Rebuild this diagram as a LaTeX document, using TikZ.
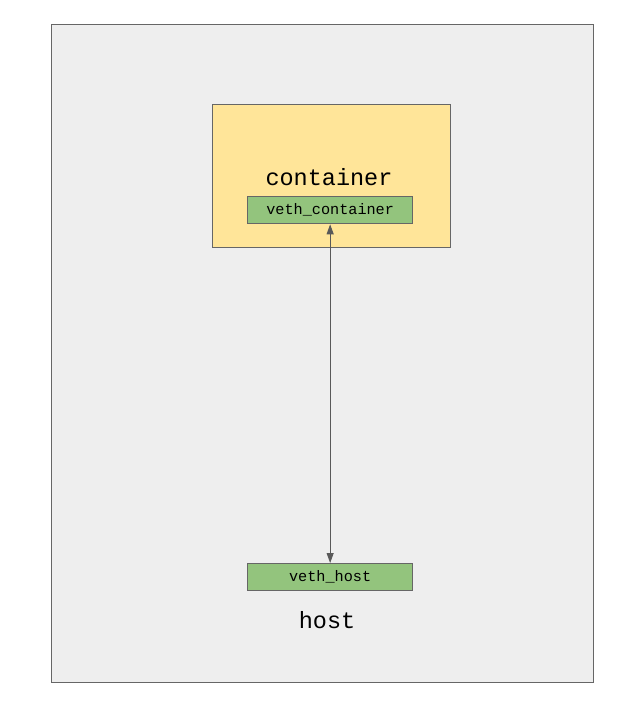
\documentclass[tikz,border=0pt]{standalone}
\usepackage{fontspec}
\setmonofont{Liberation Mono}
\usetikzlibrary{arrows.meta}
\definecolor{hostfill}{HTML}{EEEEEE}
\definecolor{edge}{HTML}{666666}
\definecolor{contfill}{HTML}{FFE599}
\definecolor{vethfill}{HTML}{93C47D}
\definecolor{arrowc}{HTML}{595959}
\tikzset{
  box/.style={draw=edge, line width=1.3pt, inner sep=0pt, anchor=north west},
  vethbox/.style={box, fill=vethfill, minimum width=165pt, minimum height=27pt, font=\ttfamily\fontsize{15.2}{17}\selectfont},
  biglabel/.style={font=\ttfamily\fontsize{23.5}{26}\selectfont, inner sep=0pt},
  link/.style={draw=arrowc, line width=1pt, {Triangle[length=10pt,width=7pt]}-{Triangle[length=10pt,width=7pt]}}
}
\begin{document}
\begin{tikzpicture}[x=1pt,y=-1pt]
\useasboundingbox (0,0) rectangle (640,711);
\fill[white] (0,0) rectangle (640,711);
\node[box, fill=hostfill, minimum width=542pt, minimum height=658pt] (hostbox) at (51,24) {};
\node[box, fill=contfill, minimum width=238pt, minimum height=143pt] (contbox) at (212,104) {};
\node[biglabel] (contlabel) at (329,177) {container};
\node[vethbox] (vc) at (247,196) {veth\_container};
\node[vethbox] (vh) at (247,563) {veth\_host};
\node[biglabel] (hostlabel) at (327,620) {host};
\draw[link] (vc.south) -- (vh.north);
\end{tikzpicture}
\end{document}
